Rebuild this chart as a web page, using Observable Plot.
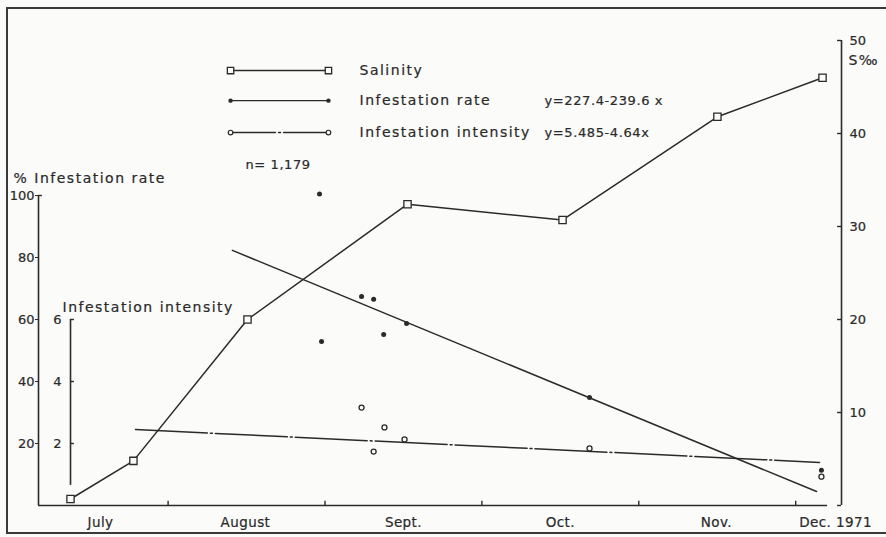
<!DOCTYPE html>
<html><head><meta charset="utf-8">
<script src="https://cdn.jsdelivr.net/npm/d3@7"></script>
<script src="https://cdn.jsdelivr.net/npm/@observablehq/plot@0.6"></script>
<style>
body{margin:0;background:#fbfbf9;overflow:hidden}
#wrap{position:relative;width:886px;height:537px}
#border{position:absolute;left:6px;top:7px;width:900px;height:523px;border:2px solid #3a3a3a;pointer-events:none}
svg text{stroke:#2a2a2a;stroke-width:0.2px}
</style></head><body><div id="wrap"><div id="border"></div></div>
<script>
// x unit: months, 0 = 1 July 1971, 1 = 1 Aug, ..., 5 = 1 Dec
const salinityMonth = [0.378, 0.779, 1.506, 2.526, 3.514, 4.501, 5.171];
const salinityValue = [0.7, 4.8, 20.0, 32.4, 30.7, 41.8, 46.0];          // S ‰
const rateMonth = [1.965, 1.978, 2.233, 2.310, 2.374, 2.520, 3.686, 5.164];
const rateValue = [100.5, 52.9, 67.4, 66.5, 55.2, 58.7, 34.8, 11.4];       // %
const intensityMonth = [2.233, 2.379, 2.310, 2.507, 3.686, 5.164];
const intensityValue = [3.16, 2.52, 1.74, 2.13, 1.84, 0.93];
const rateFitMonth = [1.41, 5.133];
const rateFitValue = [82.3, 4.5];
const intensityFitMonth = [0.792, 5.152];
const intensityFitValue = [2.45, 1.39];
const monthLabels = ["July", "August", "Sept.", "Oct.", "Nov.", "Dec. 1971"];
const monthLabelPos = [0.569, 1.493, 2.5, 3.5, 4.495, 5.254];
const monthBoundaries = [1, 2, 3, 4, 5];
const rateTicks = [20, 40, 60, 80, 100];
const intensityTicks = [2, 4, 6];
const salinityTicks = [0, 10, 20, 30, 40, 50];
const legendLabels = ["Salinity", "Infestation rate", "Infestation intensity"];
const legendEquations = ["", "y=227.4-239.6 x", "y=5.485-4.64x"];
const legendY = [140.3, 130.6, 120.3];
const legendX = [1.398, 2.022];
const titleRate = "% Infestation rate";
const titleIntensity = "Infestation intensity";
const titleSalinity = "S‰";
const sampleSize = "n= 1,179";

// secondary axes expressed on the % scale
const KS = 3, KI = 10;
const xStart = 0.174, xEnd = 5.203, xInt = 0.378, xRight = 5.292, tk = 0.025;
const ink = "#2a2a2a";

const sal = salinityMonth.map((m, i) => ({m, v: salinityValue[i] * KS}));
const rate = rateMonth.map((m, i) => ({m, v: rateValue[i]}));
const inten = intensityMonth.map((m, i) => ({m, v: intensityValue[i] * KI}));
const rateFit = rateFitMonth.map((m, i) => ({m, v: rateFitValue[i]}));
const intFit = intensityFitMonth.map((m, i) => ({m, v: intensityFitValue[i] * KI}));
const months = monthLabels.map((t, i) => ({t, m: monthLabelPos[i]}));
const leg = (k) => legendX.map(m => ({m, v: legendY[k]}));

const chart = Plot.plot({
  width: 886, height: 537,
  marginLeft: 38, marginRight: 45, marginBottom: 32, marginTop: 40,
  x: {domain: [0, 5], range: [10.7, 795.2], axis: null},
  y: {domain: [0, 150], range: [505, 40], label: null},
  style: {fontFamily: "DejaVu Sans", fontSize: "13px", color: ink, background: "transparent", overflow: "visible"},
  marks: [
    // axes lines
    Plot.ruleY([0], {x1: xStart, x2: xEnd, stroke: ink, strokeWidth: 1.6}),
    Plot.ruleX(monthBoundaries, {x: d => d, y1: 0, y2: 1.4, stroke: ink, strokeWidth: 1.4}),
    Plot.ruleX([xStart], {y1: 0, y2: 100, stroke: ink, strokeWidth: 1.6}),
    Plot.ruleY([100], {x1: xStart, x2: xStart + tk, stroke: ink, strokeWidth: 1.4}),
    Plot.axisY(rateTicks, {anchor: "left", label: null, tickSize: 3, tickPadding: 1, fontSize: 13, stroke: ink}),
    Plot.ruleX([xInt], {y1: 6.5, y2: 60, stroke: ink, strokeWidth: 1.6}),
    Plot.ruleY(intensityTicks, {y: d => d * KI, x1: xInt, x2: xInt + tk, stroke: ink, strokeWidth: 1.4}),
    Plot.text(intensityTicks, {x: xInt, y: d => d * KI, text: d => String(d), textAnchor: "end", dx: -9, fontSize: 13, fill: ink}),
    Plot.ruleX([xRight], {y1: 0, y2: 50 * KS, stroke: ink, strokeWidth: 1.6}),
    Plot.ruleY(salinityTicks, {y: d => d * KS, x1: xRight - tk, x2: xRight, stroke: ink, strokeWidth: 1.4}),
    Plot.axisY(salinityTicks.filter(d => d > 0).map(d => d * KS), {anchor: "right", label: null, tickSize: 0, tickPadding: 8, tickFormat: d => String(Math.round(d / KS)), fontSize: 13}),
    Plot.text(months, {x: "m", y: 0, text: "t", dy: 17, fontSize: 13.5, fill: ink}),
    // titles
    Plot.text([titleRate], {x: 0.015, y: 105.5, text: d => d, textAnchor: "start", fontSize: 14, fill: ink}),
    Plot.text([titleIntensity], {x: 0.327, y: 63.9, text: d => d, textAnchor: "start", fontSize: 14, fill: ink}),
    Plot.text([titleSalinity], {x: 5.336, y: 143.5, text: d => d, textAnchor: "start", fontSize: 14, fill: ink}),
    Plot.text([sampleSize], {x: 1.493, y: 110, text: d => d, textAnchor: "start", fontSize: 13, fill: ink}),
    // legend
    Plot.line(leg(0), {x: "m", y: "v", stroke: ink, strokeWidth: 1.4}),
    Plot.dot(leg(0), {x: "m", y: "v", symbol: "square", r: 3.6, fill: "#fbfbf9", stroke: ink, strokeWidth: 1.3}),
    Plot.line(leg(1), {x: "m", y: "v", stroke: ink, strokeWidth: 1.4}),
    Plot.dot(leg(1), {x: "m", y: "v", r: 2.2, fill: ink}),
    Plot.line(leg(2), {x: "m", y: "v", stroke: ink, strokeWidth: 1.4, strokeDasharray: "45,3,2,3"}),
    Plot.dot(leg(2), {x: "m", y: "v", r: 2.3, fill: "#fbfbf9", stroke: ink, strokeWidth: 1.2}),
    Plot.text(legendLabels, {x: 2.22, y: (d, i) => legendY[i], text: d => d, textAnchor: "start", fontSize: 14, fill: ink}),
    Plot.text(legendEquations, {x: 3.399, y: (d, i) => legendY[i], text: d => d, textAnchor: "start", fontSize: 13, fill: ink}),
    // data
    Plot.line(sal, {x: "m", y: "v", stroke: ink, strokeWidth: 1.5}),
    Plot.line(rateFit, {x: "m", y: "v", stroke: ink, strokeWidth: 1.5}),
    Plot.line(intFit, {x: "m", y: "v", stroke: ink, strokeWidth: 1.5, strokeDasharray: "72,3,2,3"}),
    Plot.dot(sal, {x: "m", y: "v", symbol: "square", r: 4.1, fill: "#fbfbf9", stroke: ink, strokeWidth: 1.3}),
    Plot.dot(rate, {x: "m", y: "v", r: 2.5, fill: ink}),
    Plot.dot(inten, {x: "m", y: "v", r: 2.5, fill: "#fbfbf9", stroke: ink, strokeWidth: 1.3})
  ]
});
// letter spacing to mimic the stencil lettering
const wide = new Set([...legendLabels, titleRate, titleIntensity, titleSalinity]);
const eq = new Set([...legendEquations, sampleSize]);
const mon = new Set(monthLabels);
d3.select(chart).selectAll("text").each(function() {
  const t = this.textContent;
  if (wide.has(t)) this.style.letterSpacing = "1.5px";
  else if (eq.has(t)) this.style.letterSpacing = "0.6px";
  else if (mon.has(t)) this.style.letterSpacing = "0.4px";
});
document.getElementById("wrap").prepend(chart);
</script>
</body></html>
